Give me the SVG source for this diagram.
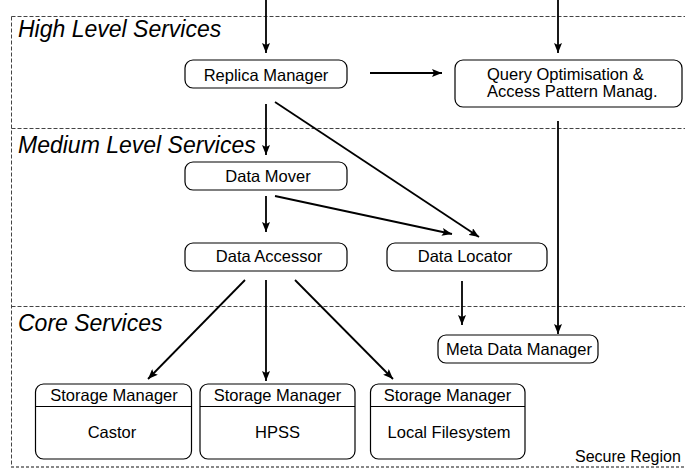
<svg xmlns="http://www.w3.org/2000/svg" width="685" height="470" viewBox="0 0 685 470">
<style>
.band{stroke:#444;stroke-width:1;stroke-dasharray:4,2;fill:none}
.bandb{stroke:#888;stroke-width:2;stroke-dasharray:3,2;fill:none}
.lbl{font-family:"Liberation Sans",Arial,sans-serif;font-style:italic;font-size:23px;fill:#000}
.box{fill:#fff;stroke:#000;stroke-width:1.2}
.t{font-family:"Liberation Sans",Arial,sans-serif;font-size:16.5px;fill:#000;text-anchor:middle}
.conn line{stroke:#000;stroke-width:1.8;marker-end:url(#ah)}
</style>
<defs>
<marker id="ah" markerUnits="userSpaceOnUse" markerWidth="11" markerHeight="8" refX="10" refY="4" orient="auto">
<path d="M0,0 L10,4 L0,8 L2,4 Z" fill="#000"/>
</marker>
</defs>
<rect width="685" height="470" fill="#fff"/>
<g id="regions">
<line class="band" x1="11.5" y1="16.5" x2="685" y2="16.5"/>
<line class="band" x1="11.5" y1="128.5" x2="685" y2="128.5"/>
<line class="band" x1="11.5" y1="306.5" x2="685" y2="306.5"/>
<line class="band" x1="11.5" y1="16.5" x2="11.5" y2="467"/>
<line class="bandb" x1="11" y1="467" x2="685" y2="467"/>
<text class="lbl" x="18" y="37">High Level Services</text>
<text class="lbl" x="18" y="153">Medium Level Services</text>
<text class="lbl" x="18" y="331">Core Services</text>
<text x="575" y="462" style="font-family:'Liberation Sans',Arial,sans-serif;font-size:16px">Secure Region</text>
</g>
<g id="replica-manager">
<rect class="box" x="185" y="60" width="162" height="28" rx="8"/>
<text class="t" x="266" y="80.5">Replica Manager</text>
</g>
<g id="query-optimisation">
<rect class="box" x="455" y="60" width="227" height="47" rx="8"/>
<text x="487" y="80" style="font-family:'Liberation Sans',Arial,sans-serif;font-size:16.5px">Query Optimisation &amp;</text>
<text x="487" y="96.5" style="font-family:'Liberation Sans',Arial,sans-serif;font-size:16.5px">Access Pattern Manag.</text>
</g>
<g id="data-mover">
<rect class="box" x="185" y="162" width="162" height="28" rx="8"/>
<text class="t" x="268" y="182">Data Mover</text>
</g>
<g id="data-accessor">
<rect class="box" x="185" y="243" width="162" height="28" rx="8"/>
<text class="t" x="269" y="262">Data Accessor</text>
</g>
<g id="data-locator">
<rect class="box" x="387" y="243" width="160" height="28" rx="8"/>
<text class="t" x="465" y="262">Data Locator</text>
</g>
<g id="meta-data-manager">
<rect class="box" x="438" y="335" width="160" height="28" rx="8"/>
<text class="t" x="519" y="355">Meta Data Manager</text>
</g>
<g id="sm-castor">
<rect class="box" x="35.5" y="384" width="156" height="75" rx="8"/>
<line x1="35.5" y1="406.5" x2="191.5" y2="406.5" stroke="#000" stroke-width="1.2"/>
<text class="t" x="114" y="401">Storage Manager</text>
<text class="t" x="112" y="437.5">Castor</text>
</g>
<g id="sm-hpss">
<rect class="box" x="200" y="384" width="155" height="75" rx="8"/>
<line x1="200" y1="406.5" x2="355" y2="406.5" stroke="#000" stroke-width="1.2"/>
<text class="t" x="277.5" y="401">Storage Manager</text>
<text class="t" x="277.5" y="437.5">HPSS</text>
</g>
<g id="sm-local">
<rect class="box" x="370.5" y="384" width="154.5" height="75" rx="8"/>
<line x1="370.5" y1="406.5" x2="525" y2="406.5" stroke="#000" stroke-width="1.2"/>
<text class="t" x="447.5" y="401">Storage Manager</text>
<text class="t" x="449" y="437.5">Local Filesystem</text>
</g>
<g id="connectors" class="conn">
<line x1="266" y1="0" x2="266" y2="53"/>
<line x1="558" y1="0" x2="558" y2="53"/>
<line x1="370" y1="73" x2="442" y2="73"/>
<line x1="266" y1="104" x2="266" y2="155"/>
<line x1="275" y1="102" x2="479" y2="237"/>
<line x1="266" y1="196" x2="266" y2="232"/>
<line x1="275" y1="196" x2="452" y2="234"/>
<line x1="462" y1="281" x2="462" y2="325"/>
<line x1="558" y1="121" x2="558" y2="334"/>
<line x1="245" y1="280" x2="148" y2="379"/>
<line x1="266" y1="280" x2="266" y2="381"/>
<line x1="295" y1="280" x2="393" y2="379"/>
</g>
</svg>
